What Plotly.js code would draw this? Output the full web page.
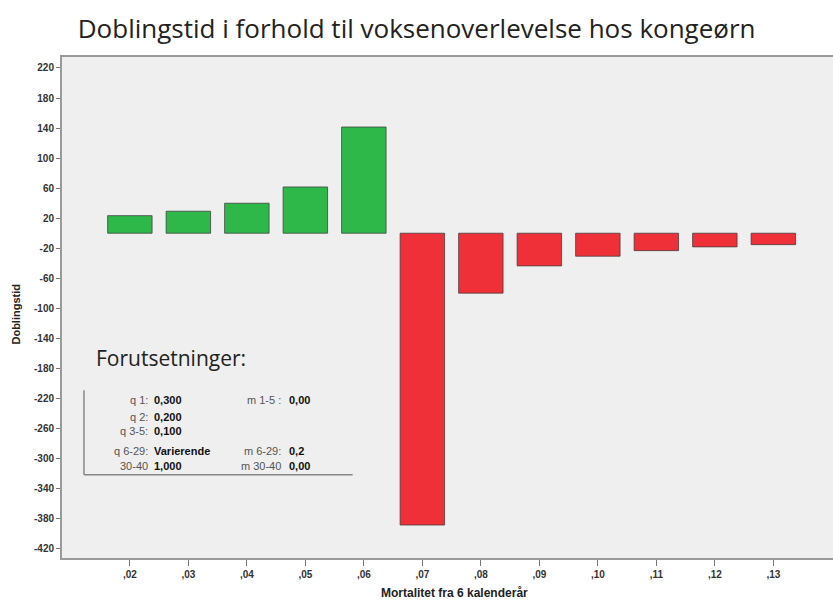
<!DOCTYPE html>
<html><head><meta charset="utf-8">
<script src="https://cdn.plot.ly/plotly-3.0.1.min.js"></script>
<style>html,body{margin:0;padding:0;background:#fff}#chart{width:833px;height:601px}</style>
</head><body><div id="chart"></div>
<script>
const categories = [",02", ",03", ",04", ",05", ",06", ",07", ",08", ",09", ",10", ",11", ",12", ",13"];
const doublingTime = [23.4, 29.3, 39.9, 61.6, 141.4, -388.5, -79.8, -43.5, -30.6, -23.2, -18.2, -15.2];
const yTickVals = [220, 180, 140, 100, 60, 20, -20, -60, -100, -140, -180, -220, -260, -300, -340, -380, -420];
const yTickText = ["220", "180", "140", "100", "60", "20", "-20", "-60", "-100", "-140", "-180", "-220", "-260", "-300", "-340", "-380", "-420"];
const assumptionLabels = ["q 1:", "q 2:", "q 3-5:", "q 6-29:", "30-40"];
const assumptionValues = ["0,300", "0,200", "0,100", "Varierende", "1,000"];
const mortLabels = ["m 1-5 :", "", "", "m 6-29:", "m 30-40"];
const mortValues = ["0,00", "", "", "0,2", "0,00"];

const green = "#2eb84a", red = "#ef3039";
const colors = doublingTime.map(v => v >= 0 ? green : red);

const narrow = "Liberation Sans Narrow, Liberation Sans, Arial, sans-serif";
const rowY = [0.315, 0.281, 0.2535, 0.214, 0.184];
const smallFont = {family: narrow, size: 11, color: "#555"};
const boldFont = {family: narrow, size: 11, color: "#111", weight: "bold"};

const annotations = [{
  text: "Forutsetninger:", xref: "paper", yref: "paper", x: 0.0415, y: 0.399,
  xanchor: "left", yanchor: "middle", showarrow: false,
  font: {family: "Open Sans, Lato, sans-serif", size: 21, color: "#222"}
}, {
  text: "<b>Doblingstid</b>", xref: "paper", yref: "paper", x: -0.059, y: 0.487,
  xanchor: "center", yanchor: "middle", textangle: -90, showarrow: false,
  font: {family: narrow, size: 11, color: "#222"}
}, {
  text: "<b>Mortalitet fra 6 kalenderår</b>", xref: "paper", yref: "paper", x: 0.5085, y: -0.07,
  xanchor: "center", yanchor: "middle", showarrow: false,
  font: {family: narrow, size: 12, color: "#222"}
}];
assumptionLabels.forEach((t, i) => {
  annotations.push({text: t, xref: "paper", yref: "paper", x: 0.114, y: rowY[i], xanchor: "right", yanchor: "middle", showarrow: false, font: smallFont});
  annotations.push({text: "<b>" + assumptionValues[i] + "</b>", xref: "paper", yref: "paper", x: 0.117, y: rowY[i], xanchor: "left", yanchor: "middle", showarrow: false, font: boldFont});
  if (mortLabels[i]) {
    annotations.push({text: mortLabels[i], xref: "paper", yref: "paper", x: 0.2866, y: rowY[i], xanchor: "right", yanchor: "middle", showarrow: false, font: smallFont});
    annotations.push({text: "<b>" + mortValues[i] + "</b>", xref: "paper", yref: "paper", x: 0.2918, y: rowY[i], xanchor: "left", yanchor: "middle", showarrow: false, font: boldFont});
  }
});

const tickFont = {family: narrow, size: 10, color: "#333", weight: "bold"};

const layout = {
  width: 833, height: 601,
  margin: {l: 62, r: 0, t: 57, b: 43},
  paper_bgcolor: "#ffffff", plot_bgcolor: "#efefef",
  title: {text: "Doblingstid i forhold til voksenoverlevelse hos kongeørn", x: 0.46, xref: "paper", xanchor: "center", y: 0.952, yanchor: "middle",
    font: {family: "Open Sans, Lato, sans-serif", size: 26, color: "#222"}},
  showlegend: false,
  bargap: 0.24,
  xaxis: {
    type: "category", range: [-1.16, 12.02], showgrid: false, zeroline: false,
    showline: true, linecolor: "#9a9a9a", linewidth: 2, mirror: true,
    ticks: "outside", ticklen: 6, tickcolor: "#777", tickwidth: 1,
    tickfont: tickFont
  },
  yaxis: {
    range: [-432.4, 234.6], showgrid: false, zeroline: false,
    showline: true, linecolor: "#9a9a9a", linewidth: 2,
    ticks: "outside", ticklen: 4, tickcolor: "#777", tickwidth: 1,
    tickvals: yTickVals, ticktext: yTickText, tickfont: tickFont
  },
  shapes: [
    {type: "line", xref: "paper", yref: "paper", x0: 0.0285, x1: 0.0285, y0: 0.335, y1: 0.166, line: {color: "#888", width: 1.5}},
    {type: "line", xref: "paper", yref: "paper", x0: 0.0285, x1: 0.377, y0: 0.166, y1: 0.166, line: {color: "#888", width: 1.5}}
  ],
  annotations: annotations
};

Plotly.newPlot("chart", [{
  type: "bar", x: categories, y: doublingTime,
  marker: {color: colors, line: {color: "rgba(60,60,60,0.75)", width: 1}},
  hoverinfo: "x+y"
}], layout, {displayModeBar: false, staticPlot: true});
</script></body></html>
